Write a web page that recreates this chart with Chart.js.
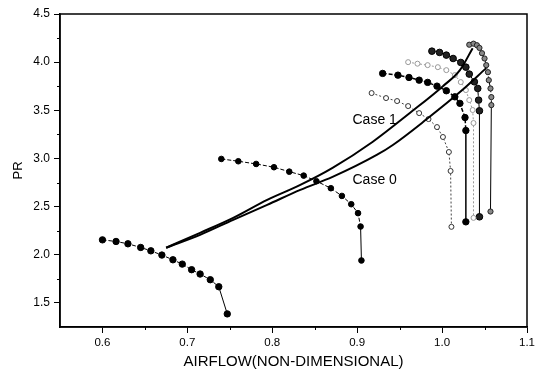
<!DOCTYPE html>
<html>
<head>
<meta charset="utf-8">
<script src="https://cdn.jsdelivr.net/npm/chart.js@4/dist/chart.umd.min.js"></script>
<style>
  html, body { margin: 0; padding: 0; background: #fff; }
</style>
</head>
<body>
<canvas id="map" width="538" height="376"></canvas>
<script>
// speed lines, surge side first, choke point last
const line1Flow = [0.600, 0.616, 0.630, 0.645, 0.657, 0.670, 0.683, 0.694, 0.705, 0.715, 0.727, 0.737, 0.747];
const line1PR   = [2.155, 2.138, 2.114, 2.076, 2.041, 1.997, 1.948, 1.903, 1.845, 1.800, 1.741, 1.668, 1.386];

const line2Flow = [0.740, 0.760, 0.781, 0.802, 0.820, 0.837, 0.852, 0.869, 0.882, 0.893, 0.901, 0.904, 0.905];
const line2PR   = [2.995, 2.971, 2.943, 2.909, 2.863, 2.822, 2.764, 2.691, 2.611, 2.525, 2.432, 2.293, 1.941];

const line3Flow = [0.917, 0.934, 0.947, 0.960, 0.973, 0.984, 0.994, 1.001, 1.008, 1.010, 1.011];
const line3PR   = [3.679, 3.627, 3.596, 3.544, 3.471, 3.409, 3.326, 3.223, 3.067, 2.870, 2.290];

const line4Flow = [0.930, 0.948, 0.961, 0.973, 0.983, 0.994, 1.005, 1.015, 1.021, 1.027, 1.028, 1.028];
const line4PR   = [3.883, 3.865, 3.841, 3.813, 3.790, 3.751, 3.703, 3.640, 3.572, 3.425, 3.290, 2.342];

const line5Flow = [0.960, 0.971, 0.983, 0.995, 1.005, 1.015, 1.022, 1.028, 1.032, 1.036, 1.037, 1.037];
const line5PR   = [4.000, 3.984, 3.969, 3.948, 3.917, 3.865, 3.793, 3.710, 3.606, 3.503, 3.368, 2.383];

const line6Flow = [0.988, 0.997, 1.005, 1.013, 1.022, 1.028, 1.032, 1.038, 1.042, 1.043, 1.044, 1.044];
const line6PR   = [4.114, 4.101, 4.073, 4.038, 3.997, 3.948, 3.876, 3.796, 3.727, 3.606, 3.495, 2.394];

const line7Flow = [1.032, 1.037, 1.041, 1.044, 1.047, 1.050, 1.052, 1.054, 1.055, 1.057, 1.058, 1.058, 1.057];
const line7PR   = [4.181, 4.192, 4.176, 4.148, 4.093, 4.038, 3.969, 3.896, 3.813, 3.727, 3.637, 3.554, 2.449];

// operating lines
const case1Flow = [0.675, 0.715, 0.754, 0.794, 0.833, 0.871, 0.918, 0.962, 1.001, 1.021, 1.036];
const case1PR   = [2.073, 2.228, 2.383, 2.570, 2.725, 2.902, 3.171, 3.472, 3.751, 3.917, 4.145];
const case0Flow = [0.675, 0.715, 0.754, 0.794, 0.833, 0.871, 0.923, 0.942, 0.982, 1.021, 1.052];
const case0PR   = [2.073, 2.207, 2.363, 2.518, 2.674, 2.808, 3.036, 3.140, 3.409, 3.689, 3.938];

const caseLabels = ['Case 1', 'Case 0'];
const labelFlow  = [0.8945, 0.8945];
const labelPR    = [3.40, 2.78];

const xTicks  = [0.6, 0.7, 0.8, 0.9, 1.0, 1.1];
const xMinor  = [0.65, 0.75, 0.85, 0.95, 1.05];
const yTicks  = [1.5, 2.0, 2.5, 3.0, 3.5, 4.0, 4.5];
const yMinor  = [1.75, 2.25, 2.75, 3.25, 3.75, 4.25];

const FONT = '"Liberation Sans", Arial, sans-serif';

const toPoints = (xs, ys) => xs.map((x, i) => ({ x, y: ys[i] }));

// long vertical drops at the choke end are drawn solid
const isDrop = ctx => ctx.p0.parsed.y - ctx.p1.parsed.y > 0.25;

const speedLine = (xs, ys, opts) => ({
  data: toPoints(xs, ys),
  showLine: true,
  order: 1,
  borderColor: '#000',
  borderWidth: 1,
  borderDash: [4, 2],
  pointRadius: 3,
  pointBackgroundColor: '#000',
  pointBorderColor: '#000',
  pointBorderWidth: 1,
  segment: { borderDash: ctx => isDrop(ctx) ? [] : undefined },
  ...opts
});

const operatingLine = (xs, ys) => ({
  data: toPoints(xs, ys),
  showLine: true,
  order: 0,
  borderColor: '#000',
  borderWidth: 2,
  pointRadius: 0,
  cubicInterpolationMode: 'monotone'
});

const framePlugin = {
  id: 'frame',
  afterDraw(chart) {
    const { ctx, chartArea: a, scales: { x, y } } = chart;
    ctx.save();
    ctx.strokeStyle = '#000';
    ctx.lineWidth = 1.5;
    ctx.strokeRect(a.left, a.top, a.right - a.left, a.bottom - a.top);

    // minor ticks
    ctx.lineWidth = 1;
    ctx.beginPath();
    xMinor.forEach(v => {
      const px = Math.round(x.getPixelForValue(v)) + 0.5;
      ctx.moveTo(px, a.bottom);
      ctx.lineTo(px, a.bottom + 3);
    });
    yMinor.forEach(v => {
      const py = Math.round(y.getPixelForValue(v)) + 0.5;
      ctx.moveTo(a.left, py);
      ctx.lineTo(a.left - 3, py);
    });
    ctx.stroke();

    ctx.fillStyle = '#000';
    ctx.font = '14px ' + FONT;
    ctx.textBaseline = 'middle';
    caseLabels.forEach((t, i) => {
      ctx.fillText(t, x.getPixelForValue(labelFlow[i]), y.getPixelForValue(labelPR[i]));
    });
    ctx.restore();
  }
};

new Chart(document.getElementById('map'), {
  type: 'scatter',
  data: {
    datasets: [
      speedLine(line1Flow, line1PR, { pointRadius: 3.2 }),
      speedLine(line2Flow, line2PR, { pointRadius: 2.8 }),
      speedLine(line3Flow, line3PR, {
        borderColor: '#444', borderDash: [2, 2], segment: {},
        pointRadius: 2.5, pointBackgroundColor: '#fff', pointBorderColor: '#333'
      }),
      speedLine(line4Flow, line4PR, { borderWidth: 1.5, pointRadius: 3.2 }),
      speedLine(line5Flow, line5PR, {
        borderColor: '#999', borderDash: [2, 2], segment: {},
        pointRadius: 2.5, pointBackgroundColor: '#fff', pointBorderColor: '#999'
      }),
      speedLine(line6Flow, line6PR, { pointRadius: 3.3, pointBackgroundColor: '#222' }),
      speedLine(line7Flow, line7PR, {
        pointRadius: 2.6, pointBackgroundColor: '#888', pointBorderColor: '#222'
      }),
      operatingLine(case1Flow, case1PR),
      operatingLine(case0Flow, case0PR)
    ]
  },
  options: {
    responsive: false,
    animation: false,
    devicePixelRatio: 1,
    layout: { padding: { top: 14, right: 11, bottom: 0, left: 0 } },
    plugins: { legend: { display: false }, tooltip: { enabled: false } },
    scales: {
      x: {
        type: 'linear',
        min: 0.55,
        max: 1.1,
        afterBuildTicks: s => { s.ticks = xTicks.map(value => ({ value })); },
        afterFit: s => { s.height = 49; },
        ticks: {
          callback: v => v.toFixed(1),
          font: { family: FONT, size: 11.5 },
          color: '#000',
          padding: 3,
          maxRotation: 0,
          autoSkip: false
        },
        grid: { drawOnChartArea: false, tickLength: 6, color: '#000' },
        border: { color: '#000', width: 1.5 },
        title: {
          display: true,
          text: 'AIRFLOW(NON-DIMENSIONAL)',
          color: '#000',
          font: { family: FONT, size: 15 },
          padding: { top: 0, bottom: 5 }
        }
      },
      y: {
        type: 'linear',
        min: 1.25,
        max: 4.5,
        afterBuildTicks: s => { s.ticks = yTicks.map(value => ({ value })); },
        afterFit: s => { s.width = 60; },
        ticks: {
          callback: v => v.toFixed(1),
          font: { family: FONT, size: 12 },
          color: '#000',
          padding: 4,
          autoSkip: false
        },
        grid: { drawOnChartArea: false, tickLength: 6, color: '#000' },
        border: { color: '#000', width: 1.5 },
        title: {
          display: true,
          text: 'PR',
          color: '#000',
          font: { family: FONT, size: 13 },
          padding: { top: 11, bottom: 0 }
        }
      }
    }
  },
  plugins: [framePlugin]
});
</script>
</body>
</html>
